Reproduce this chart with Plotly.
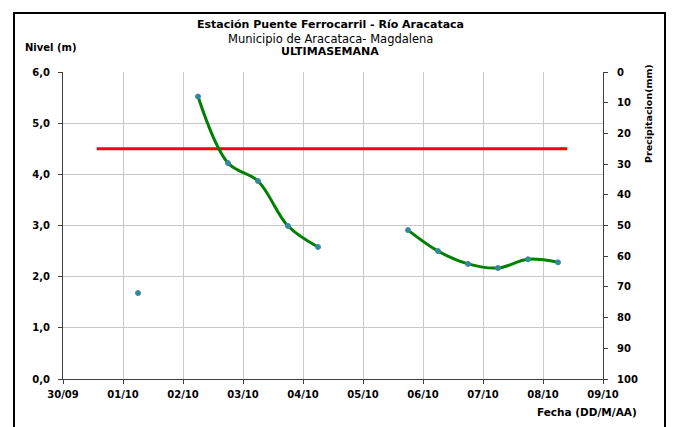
import plotly.graph_objects as go

# Data
fechas = ["2010-10-01 06:00", "2010-10-01 18:00",
          "2010-10-02 06:00", "2010-10-02 18:00", "2010-10-03 06:00", "2010-10-03 18:00",
          "2010-10-04 06:00", "2010-10-04 18:00", "2010-10-05 06:00",
          "2010-10-05 18:00", "2010-10-06 06:00", "2010-10-06 18:00", "2010-10-07 06:00",
          "2010-10-07 18:00", "2010-10-08 06:00"]
nivel = [1.68, None, 5.52, 4.22, 3.87, 2.99, 2.58, None, None,
         2.91, 2.50, 2.25, 2.17, 2.34, 2.28]
alerta_x = ["2010-09-30 13:30", "2010-10-08 09:40"]
alerta_y = [4.5, 4.5]
x_ticks = ["2010-09-30", "2010-10-01", "2010-10-02", "2010-10-03", "2010-10-04",
           "2010-10-05", "2010-10-06", "2010-10-07", "2010-10-08", "2010-10-09"]
x_labels = ["30/09", "01/10", "02/10", "03/10", "04/10", "05/10", "06/10", "07/10", "08/10", "09/10"]

FONT = "DejaVu Sans, Verdana, sans-serif"
OFF = 8  # page body margin offset

# plot area in window pixels
PL, PR, PT, PB = 63, 603, 72, 379
W, H = 674 - OFF, 427 - OFF


def px(x):
    return (x - PL) / (PR - PL)


def py(y):
    return (PB - y) / (PB - PT)


fig = go.Figure()
fig.add_trace(go.Scatter(x=alerta_x, y=alerta_y, mode="lines",
                         line=dict(color="#ff0000", width=3), showlegend=False))
fig.add_trace(go.Scatter(x=fechas, y=nivel, mode="lines+markers", connectgaps=False,
                         line=dict(color="#008000", width=3, shape="spline", smoothing=1),
                         marker=dict(color="#2a8f8a", size=5, line=dict(color="#4a7ebb", width=1)),
                         showlegend=False))
fig.add_trace(go.Scatter(x=[x_ticks[0]], y=[None], yaxis="y2", showlegend=False))

tick_font = dict(family=FONT, size=10, color="black", weight="bold")
fig.update_layout(
    width=W, height=H,
    margin=dict(l=PL - OFF, r=W - (PR - OFF), t=PT - OFF, b=H - (PB - OFF)),
    paper_bgcolor="white", plot_bgcolor="white",
    separators=",.",
    xaxis=dict(type="date", range=["2010-09-30", "2010-10-09"],
               tickvals=x_ticks, ticktext=x_labels,
               showgrid=True, gridcolor="#c8c8c8", gridwidth=1,
               showline=True, linecolor="#404040", linewidth=1,
               ticks="outside", ticklen=4, tickcolor="#404040",
               ticklabelstandoff=2,
               tickfont=tick_font, zeroline=False),
    yaxis=dict(range=[0, 6], dtick=1, tickformat=".1f",
               showgrid=True, gridcolor="#c8c8c8", gridwidth=1,
               showline=True, linecolor="#404040", linewidth=1,
               ticks="outside", ticklen=4, tickcolor="#404040",
               ticklabelstandoff=6,
               tickfont=tick_font, zeroline=False),
    yaxis2=dict(range=[100, 0], dtick=10, overlaying="y", side="right",
                showgrid=False, showline=True, linecolor="#404040", linewidth=1,
                ticks="outside", ticklen=4, tickcolor="#404040",
                ticklabelstandoff=7,
                tickfont=tick_font, zeroline=False),
    font=dict(family=FONT, color="black"),
)

ann = [("<b>Estación Puente Ferrocarril - Río Aracataca</b>", 25, 11),
       ("Municipio de Aracataca- Magdalena", 39, 11.5),
       ("<b>ULTIMASEMANA</b>", 52, 11)]
for text, yy, sz in ann:
    fig.add_annotation(text=text, xref="paper", yref="paper", x=px(330), y=py(yy),
                       showarrow=False, xanchor="center", yanchor="middle",
                       font=dict(family=FONT, size=sz, color="black"))
fig.add_annotation(text="<b>Nivel (m)</b>", xref="paper", yref="paper",
                   x=px(51), y=py(48), showarrow=False,
                   xanchor="center", yanchor="middle", font=dict(family=FONT, size=10))
fig.add_annotation(text="<b>Precipitacion(mm)</b>", xref="paper", yref="paper",
                   x=px(649), y=py(114), showarrow=False, textangle=-90,
                   xanchor="center", yanchor="middle", font=dict(family=FONT, size=9.5))
fig.add_annotation(text="<b>Fecha (DD/M/AA)</b>", xref="paper", yref="paper",
                   x=px(639), y=py(412), showarrow=False,
                   xanchor="right", yanchor="middle", font=dict(family=FONT, size=10.5))

# outer frame
fig.add_shape(type="rect", xref="paper", yref="paper",
              x0=px(14), x1=px(665), y0=py(440), y1=py(13),
              line=dict(color="black", width=2), layer="below")
fig.add_shape(type="rect", xref="paper", yref="paper",
              x0=px(666), x1=px(690), y0=py(440), y1=py(14),
              line=dict(width=0), fillcolor="black", layer="below")

fig.write_html("out.html")
